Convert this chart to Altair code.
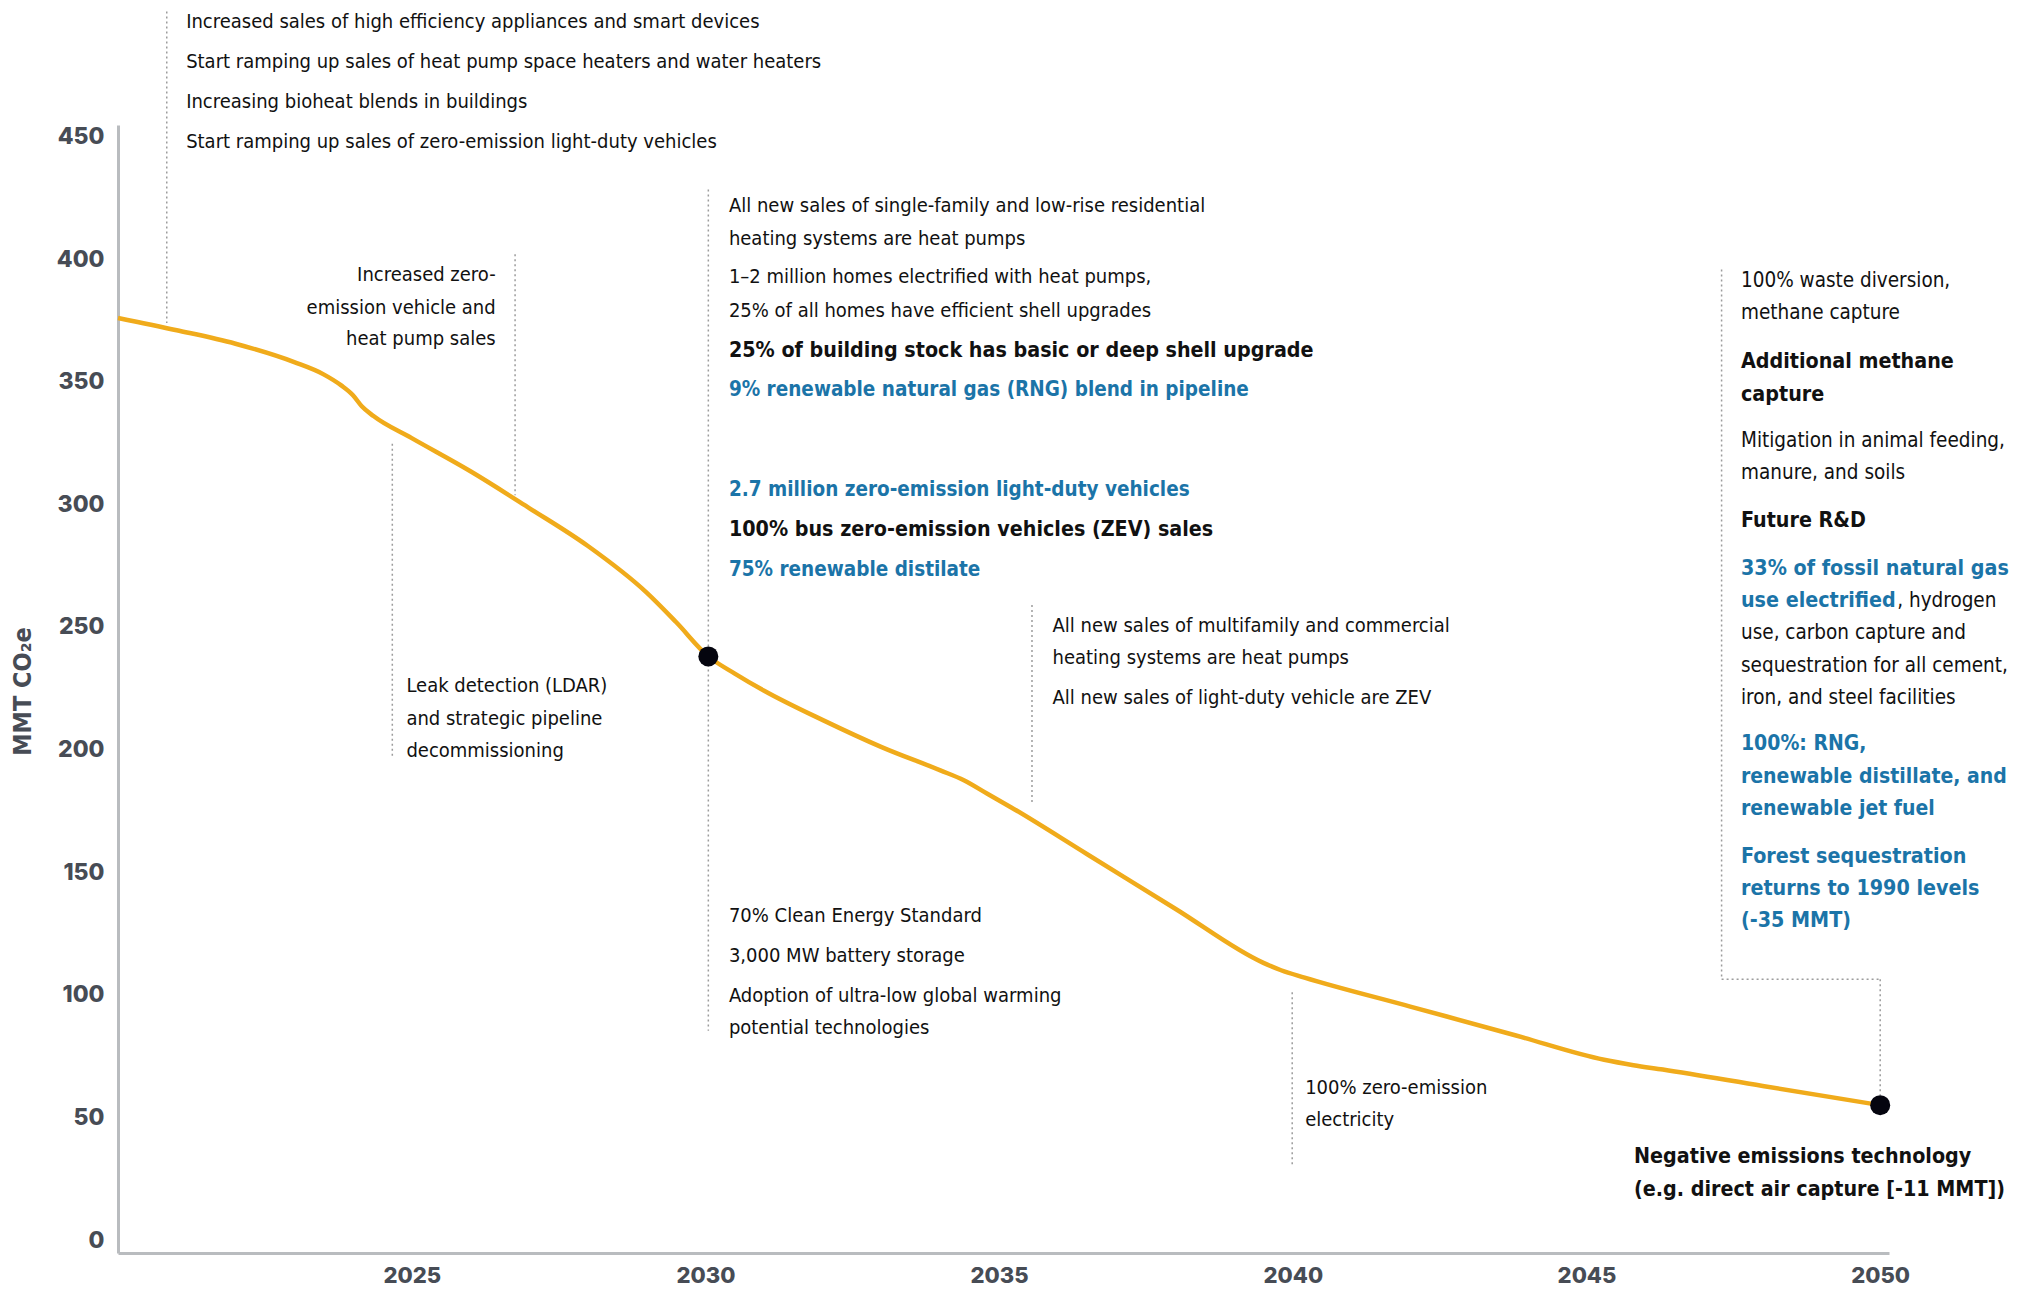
import altair as alt
import pandas as pd

# ---- emission pathway (MMT CO2e) ----
years = [2020.0, 2021, 2022, 2023, 2023.5, 2023.8, 2024.0, 2024.15, 2024.35, 2025, 2026, 2027,
         2028, 2029, 2029.5, 2030.05, 2030.5, 2031, 2032, 2033, 2034, 2034.4, 2034.8, 2035.2,
         2036.5, 2038, 2039.5, 2039.8, 2040.2, 2042, 2043.8, 2045.3, 2045.8, 2046.3, 2048, 2050]
emissions = [376, 371, 365.5, 358, 353, 348.5, 344.5, 340, 336, 327, 313.5, 298.5,
             283, 264, 252, 238, 231, 224, 212, 201, 191.5, 187.5, 182, 176.5,
             157.3, 135.1, 113, 110, 107, 95.2, 83.4, 73.5, 71.3, 69.5, 62.8, 55]

milestone_years = [2030.05, 2050]
milestone_values = [238, 55]

x_ticks = [2025, 2030, 2035, 2040, 2045, 2050]
y_ticks = [0, 50, 100, 150, 200, 250, 300, 350, 400, 450]

# ---- dotted leader lines (data coordinates) ----
lead_x = [2020.83, 2026.76, 2024.67, 2030.05, 2035.56, 2039.99, 2047.3, 2050.0]
lead_top = [501, 402, 324.7, 428.4, 259, 101, 395.8, 106.3]
lead_bottom = [374, 303.7, 196.8, 85.3, 177.4, 30, 106.3, 59]
hlead_x1 = [2047.3]
hlead_x2 = [2050.0]
hlead_y = [106.3]

# ---- annotation texts ----
note_text = [
    "Increased sales of high efficiency appliances and smart devices",
    "Start ramping up sales of heat pump space heaters and water heaters",
    "Increasing bioheat blends in buildings",
    "Start ramping up sales of zero-emission light-duty vehicles",
    "Increased zero-", "emission vehicle and", "heat pump sales",
    "Leak detection (LDAR)", "and strategic pipeline", "decommissioning",
    "All new sales of single-family and low-rise residential",
    "heating systems are heat pumps",
    "1\u20132 million homes electrified with heat pumps,",
    "25% of all homes have efficient shell upgrades",
    "25% of building stock has basic or deep shell upgrade",
    "9% renewable natural gas (RNG) blend in pipeline",
    "2.7 million zero-emission light-duty vehicles",
    "100% bus zero-emission vehicles (ZEV) sales",
    "75% renewable distilate",
    "70% Clean Energy Standard", "3,000 MW battery storage",
    "Adoption of ultra-low global warming", "potential technologies",
    "All new sales of multifamily and commercial", "heating systems are heat pumps",
    "All new sales of light-duty vehicle are ZEV",
    "100% zero-emission", "electricity",
    "100% waste diversion,", "methane capture",
    "Additional methane", "capture",
    "Mitigation in animal feeding,", "manure, and soils",
    "Future R&D",
    "33% of fossil natural gas", "use electrified", ", hydrogen",
    "use, carbon capture and", "sequestration for all cement,", "iron, and steel facilities",
    "100%: RNG,", "renewable distillate, and", "renewable jet fuel",
    "Forest sequestration", "returns to 1990 levels", "(-35 MMT)",
    "Negative emissions technology", "(e.g. direct air capture [-11 MMT])",
]
note_x = [
    2021.16, 2021.16, 2021.16, 2021.16,
    2026.43, 2026.43, 2026.43,
    2024.91, 2024.91, 2024.91,
    2030.40, 2030.40, 2030.40, 2030.40, 2030.40, 2030.40, 2030.40, 2030.40, 2030.40,
    2030.40, 2030.40, 2030.40, 2030.40,
    2035.91, 2035.91, 2035.91,
    2040.21, 2040.21,
    2047.63, 2047.63, 2047.63, 2047.63, 2047.63, 2047.63, 2047.63,
    2047.63, 2047.63, 2050.29,
    2047.63, 2047.63, 2047.63,
    2047.63, 2047.63, 2047.63,
    2047.63, 2047.63, 2047.63,
    2045.81, 2045.81,
]
note_y = [
    496.8, 480.5, 464.2, 447.9,
    393.7, 380.0, 367.4,
    225.8, 212.6, 199.5,
    421.6, 408.4, 392.6, 378.9, 362.6, 346.8, 305.8, 289.5, 273.2,
    132.1, 115.8, 99.5, 86.3,
    250.5, 237.4, 221.1,
    62.1, 48.9,
    391.1, 377.9, 357.9, 344.7, 325.8, 312.6, 293.2,
    273.7, 260.5, 260.5,
    247.4, 234.2, 221.1,
    202.1, 188.9, 175.8,
    156.3, 143.2, 130.0,
    33.7, 20.5,
]
note_style = [
    "reg", "reg", "reg", "reg",
    "regr", "regr", "regr",
    "reg", "reg", "reg",
    "reg", "reg", "reg", "reg", "bold", "blue", "blue", "bold", "blue",
    "reg", "reg", "reg", "reg",
    "reg", "reg", "reg",
    "reg", "reg",
    "reg2", "reg2", "bold", "bold", "reg2", "reg2", "bold",
    "blueb", "blueb", "reg2",
    "reg2", "reg2", "reg2",
    "blue2", "blue2", "blue2",
    "blueb", "blueb", "blueb",
    "bold", "bold",
]

line_df = pd.DataFrame({"year": years, "value": emissions})
dot_df = pd.DataFrame({"year": milestone_years, "value": milestone_values})
lead_df = pd.DataFrame({"year": lead_x, "value": lead_top, "bottom": lead_bottom})
hlead_df = pd.DataFrame({"year": hlead_x1, "x2": hlead_x2, "value": hlead_y})
note_df = pd.DataFrame({"year": note_x, "value": note_y, "text": note_text, "style": note_style})

NARROW = "Liberation Sans Narrow, DejaVu Sans Condensed, Arial Narrow, sans-serif"
AXISFONT = "Inter, Lato, DejaVu Sans, sans-serif"
GRAY = "#474c55"
BLUE = "#1b74a8"
INK = "#111111"

xscale = alt.Scale(domain=[2020.0, 2050.15], nice=False, zero=False)
yscale = alt.Scale(domain=[-5.3, 454.7], nice=False, zero=False)

X_AX = alt.Axis(
    values=x_ticks, format="d", title=None, grid=False, ticks=False,
    domainColor="#b9bcbf", domainWidth=3, labelFont=AXISFONT, labelFontSize=22,
    labelFontWeight=800, labelColor=GRAY, labelPadding=12)
Y_AX = alt.Axis(
    values=y_ticks, title="MMT CO\u2082e", grid=False, ticks=False,
    domainColor="#b9bcbf", domainWidth=3, labelFont=AXISFONT, labelFontSize=23,
    labelFontWeight=800, labelColor=GRAY, labelPadding=14,
    titleFont=NARROW, titleFontSize=25, titleFontWeight="bold", titleColor=GRAY,
    titleX=-96, titleY=566, titleAngle=270, titleBaseline="middle", titleAlign="center")

XE = alt.X("year:Q", scale=xscale, axis=X_AX)
YE = alt.Y("value:Q", scale=yscale, axis=Y_AX)

line = alt.Chart(line_df).mark_line(
    color="#f0ab1b", strokeWidth=4.5, interpolate="monotone", strokeJoin="round"
).encode(x=XE, y=YE)

dots = alt.Chart(dot_df).mark_circle(color="#05050f", opacity=1, size=400).encode(x=XE, y=YE)

leads = alt.Chart(lead_df).mark_rule(color="#9c9c9c", strokeWidth=1.5, strokeDash=[2, 3]).encode(
    x=XE, y=YE, y2="bottom:Q",
)

hleads = alt.Chart(hlead_df).mark_rule(color="#9c9c9c", strokeWidth=1.5, strokeDash=[2, 3]).encode(
    x=XE, x2="x2:Q", y=YE,
)

STYLES = {
    "reg": (INK, "normal", "left", 20),
    "regr": (INK, "normal", "right", 20),
    "reg2": (INK, "normal", "left", 20.5),
    "bold": (INK, "bold", "left", 21.3),
    "blue": (BLUE, "bold", "left", 20.5),
    "blue2": (BLUE, "bold", "left", 21),
    "blueb": (BLUE, "bold", "left", 21.3),
}


def text_layer(style):
    color, weight, align, size = STYLES[style]
    return alt.Chart(note_df).transform_filter(alt.datum.style == style).mark_text(
        font=NARROW, fontSize=size, fontWeight=weight, color=color, align=align, baseline="middle"
    ).encode(x=XE, y=YE, text="text:N")


texts = [text_layer(s) for s in STYLES]

chart = alt.layer(leads, hleads, line, dots, *texts).properties(
    width=1771, height=1128,
    autosize="none",
    padding={"left": 110, "top": 117, "right": 127, "bottom": 34},
    background="white",
).configure_view(stroke=None)

chart.save("out.html", embed_options={"renderer": "svg", "actions": False})
